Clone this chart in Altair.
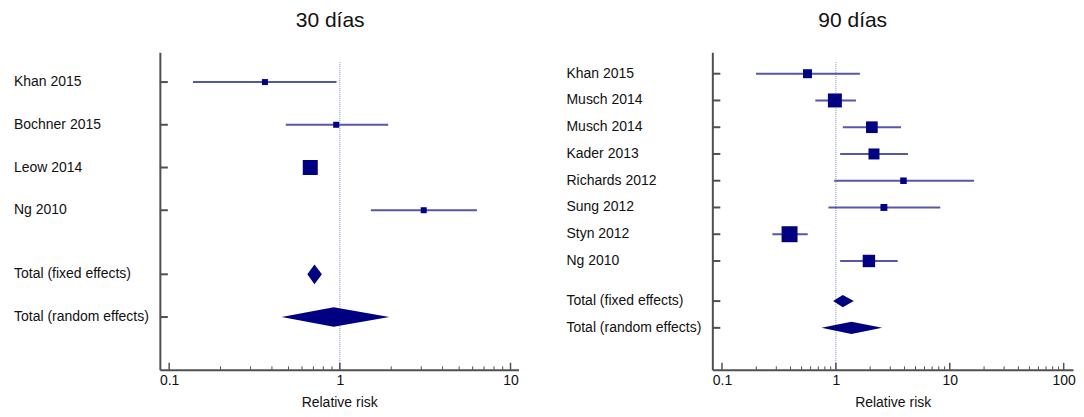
import altair as alt
import pandas as pd

FONT = "Liberation Sans"
NAVY = "#000080"
CI_COLOR = "#5656ab"
AXIS_COLOR = "#505050"

# ---------------- 30 días ----------------
s30_names = ["Khan 2015", "Bochner 2015", "Leow 2014", "Ng 2010"]
s30_rr = [0.364, 0.952, 0.671, 3.10]
s30_lo = [0.138, 0.482, 0.62, 1.52]
s30_hi = [0.956, 1.92, 0.73, 6.36]
s30_weight = [10.8, 10.8, 67.6, 10.8]
t30_names = ["Total (fixed effects)", "Total (random effects)"]
t30_rr = [0.71, 0.92]
t30_lo = [0.645, 0.456]
t30_hi = [0.785, 1.95]
x30_labels = [0.1, 1, 10]

# ---------------- 90 días ----------------
s90_names = ["Khan 2015", "Musch 2014", "Musch 2014", "Kader 2013",
             "Richards 2012", "Sung 2012", "Styn 2012", "Ng 2010"]
s90_rr = [0.563, 0.98, 2.07, 2.16, 3.92, 2.64, 0.392, 1.95]
s90_lo = [0.199, 0.66, 1.15, 1.09, 0.966, 0.86, 0.277, 1.09]
s90_hi = [1.625, 1.50, 3.73, 4.29, 16.3, 8.24, 0.566, 3.49]
s90_weight = [7.8, 18.9, 13.2, 11.7, 4.1, 4.6, 24.7, 14.9]
t90_names = ["Total (fixed effects)", "Total (random effects)"]
t90_rr = [1.15, 1.37]
t90_lo = [0.946, 0.747]
t90_hi = [1.436, 2.55]
x90_labels = [0.1, 1, 10, 100]


def panel(title, names, rr, lo, hi, weight, tnames, trr, tlo, thi, majors,
          xdomain, ydomain, width, height, title_dx, size_max):
    n = len(names)
    rows = [i + 1 for i in range(n)]
    trows = [n + 1.5, n + 2.5]
    studies = pd.DataFrame(dict(name=names, row=rows, rr=rr, lo=lo, hi=hi, w=weight))
    labels = pd.DataFrame(dict(name=names + tnames, row=rows + trows))
    half = 0.23
    drows = []
    for nm, r, c, a, b in zip(tnames, trows, trr, tlo, thi):
        drows.append(dict(name=nm, x=a, ylo=r, yhi=r))
        drows.append(dict(name=nm, x=c, ylo=r - half, yhi=r + half))
        drows.append(dict(name=nm, x=b, ylo=r, yhi=r))
    diamonds = pd.DataFrame(drows)
    minors = []
    for k in range(len(majors) - 1):
        for m in range(2, 10):
            minors.append(majors[k] * m)
    major_df = pd.DataFrame(dict(x=majors))
    minor_df = pd.DataFrame(dict(x=minors))
    ref_df = pd.DataFrame(dict(x=[1]))

    xs = alt.Scale(type="log", domain=xdomain, nice=False)
    ys = alt.Scale(domain=ydomain, reverse=True, nice=False, zero=False)
    xaxis = alt.Axis(values=majors, format="~g", ticks=False, grid=False,
                     domain=True, domainColor=AXIS_COLOR, domainWidth=2,
                     labelFont=FONT, labelFontSize=14, labelColor="#111",
                     labelPadding=4, labelFlush=False,
                     title="Relative risk", titleFont=FONT, titleFontSize=14,
                     titleFontWeight="normal", titleColor="#111", titlePadding=8)
    yaxis = alt.Axis(labels=False, ticks=False, grid=False, title=None,
                     domain=True, domainColor=AXIS_COLOR, domainWidth=2)

    def X(f):
        return alt.X(f, type="quantitative", scale=xs, axis=xaxis)

    def Y(f):
        return alt.Y(f, type="quantitative", scale=ys, axis=yaxis)

    ref = alt.Chart(ref_df).mark_rule(color="#8a8ad0", strokeWidth=1,
                                      strokeDash=[1, 1]).encode(
        x=X("x"), y=alt.value(10), y2=alt.value(height))
    ytick = alt.Chart(labels).mark_rule(color=AXIS_COLOR, strokeWidth=2).encode(
        y=Y("row"), x=alt.value(0), x2=alt.value(8))
    xmaj = alt.Chart(major_df).mark_rule(color=AXIS_COLOR, strokeWidth=1.5).encode(
        x=X("x"), y=alt.value(height), y2=alt.value(height - 7))
    xmin = alt.Chart(minor_df).mark_rule(color=AXIS_COLOR, strokeWidth=1).encode(
        x=X("x"), y=alt.value(height), y2=alt.value(height - 3.5))
    ci = alt.Chart(studies).mark_rule(color=CI_COLOR, strokeWidth=2).encode(
        x=X("lo"), x2="hi", y=Y("row"))
    sq = alt.Chart(studies).mark_square(color=NAVY, opacity=1, filled=True).encode(
        x=X("rr"), y=Y("row"),
        size=alt.Size("w:Q", scale=alt.Scale(domain=[0, 100], range=[0, size_max]),
                      legend=None))
    dia = alt.Chart(diamonds).mark_area(color=NAVY, opacity=1).encode(
        x=X("x"), y=Y("ylo"), y2="yhi", detail="name:N")
    txt = alt.Chart(labels).mark_text(align="left", baseline="middle", font=FONT,
                                      fontSize=14, color="#111").encode(
        y=Y("row"), x=alt.value(-146), text="name:N")

    return alt.layer(ref, ytick, xmaj, xmin, ci, sq, dia, txt).properties(
        width=width, height=height,
        title=alt.Title(title, font=FONT, fontSize=21, fontWeight="normal",
                        color="#111", anchor="middle", frame="group",
                        dx=title_dx, offset=4, baseline="alphabetic"))


left = panel("30 días", s30_names, s30_rr, s30_lo, s30_hi, s30_weight,
             t30_names, t30_rr, t30_lo, t30_hi, x30_labels,
             [0.0882, 11.14], [0.3, 7.736], 359, 318, -9, 333)
right = panel("90 días", s90_names, s90_rr, s90_lo, s90_hi, s90_weight,
              t90_names, t90_rr, t90_lo, t90_hi, x90_labels,
              [0.0823, 120.7], [0.194, 12.07], 361, 318, -40, 1035)

chart = alt.hconcat(left, right, spacing=48).resolve_scale(
    size="independent"
).properties(
    padding={"left": 6, "top": 2, "right": 0, "bottom": 0}
).configure_view(stroke=None)

chart.save("out.html", embed_options={"renderer": "svg", "actions": False})
